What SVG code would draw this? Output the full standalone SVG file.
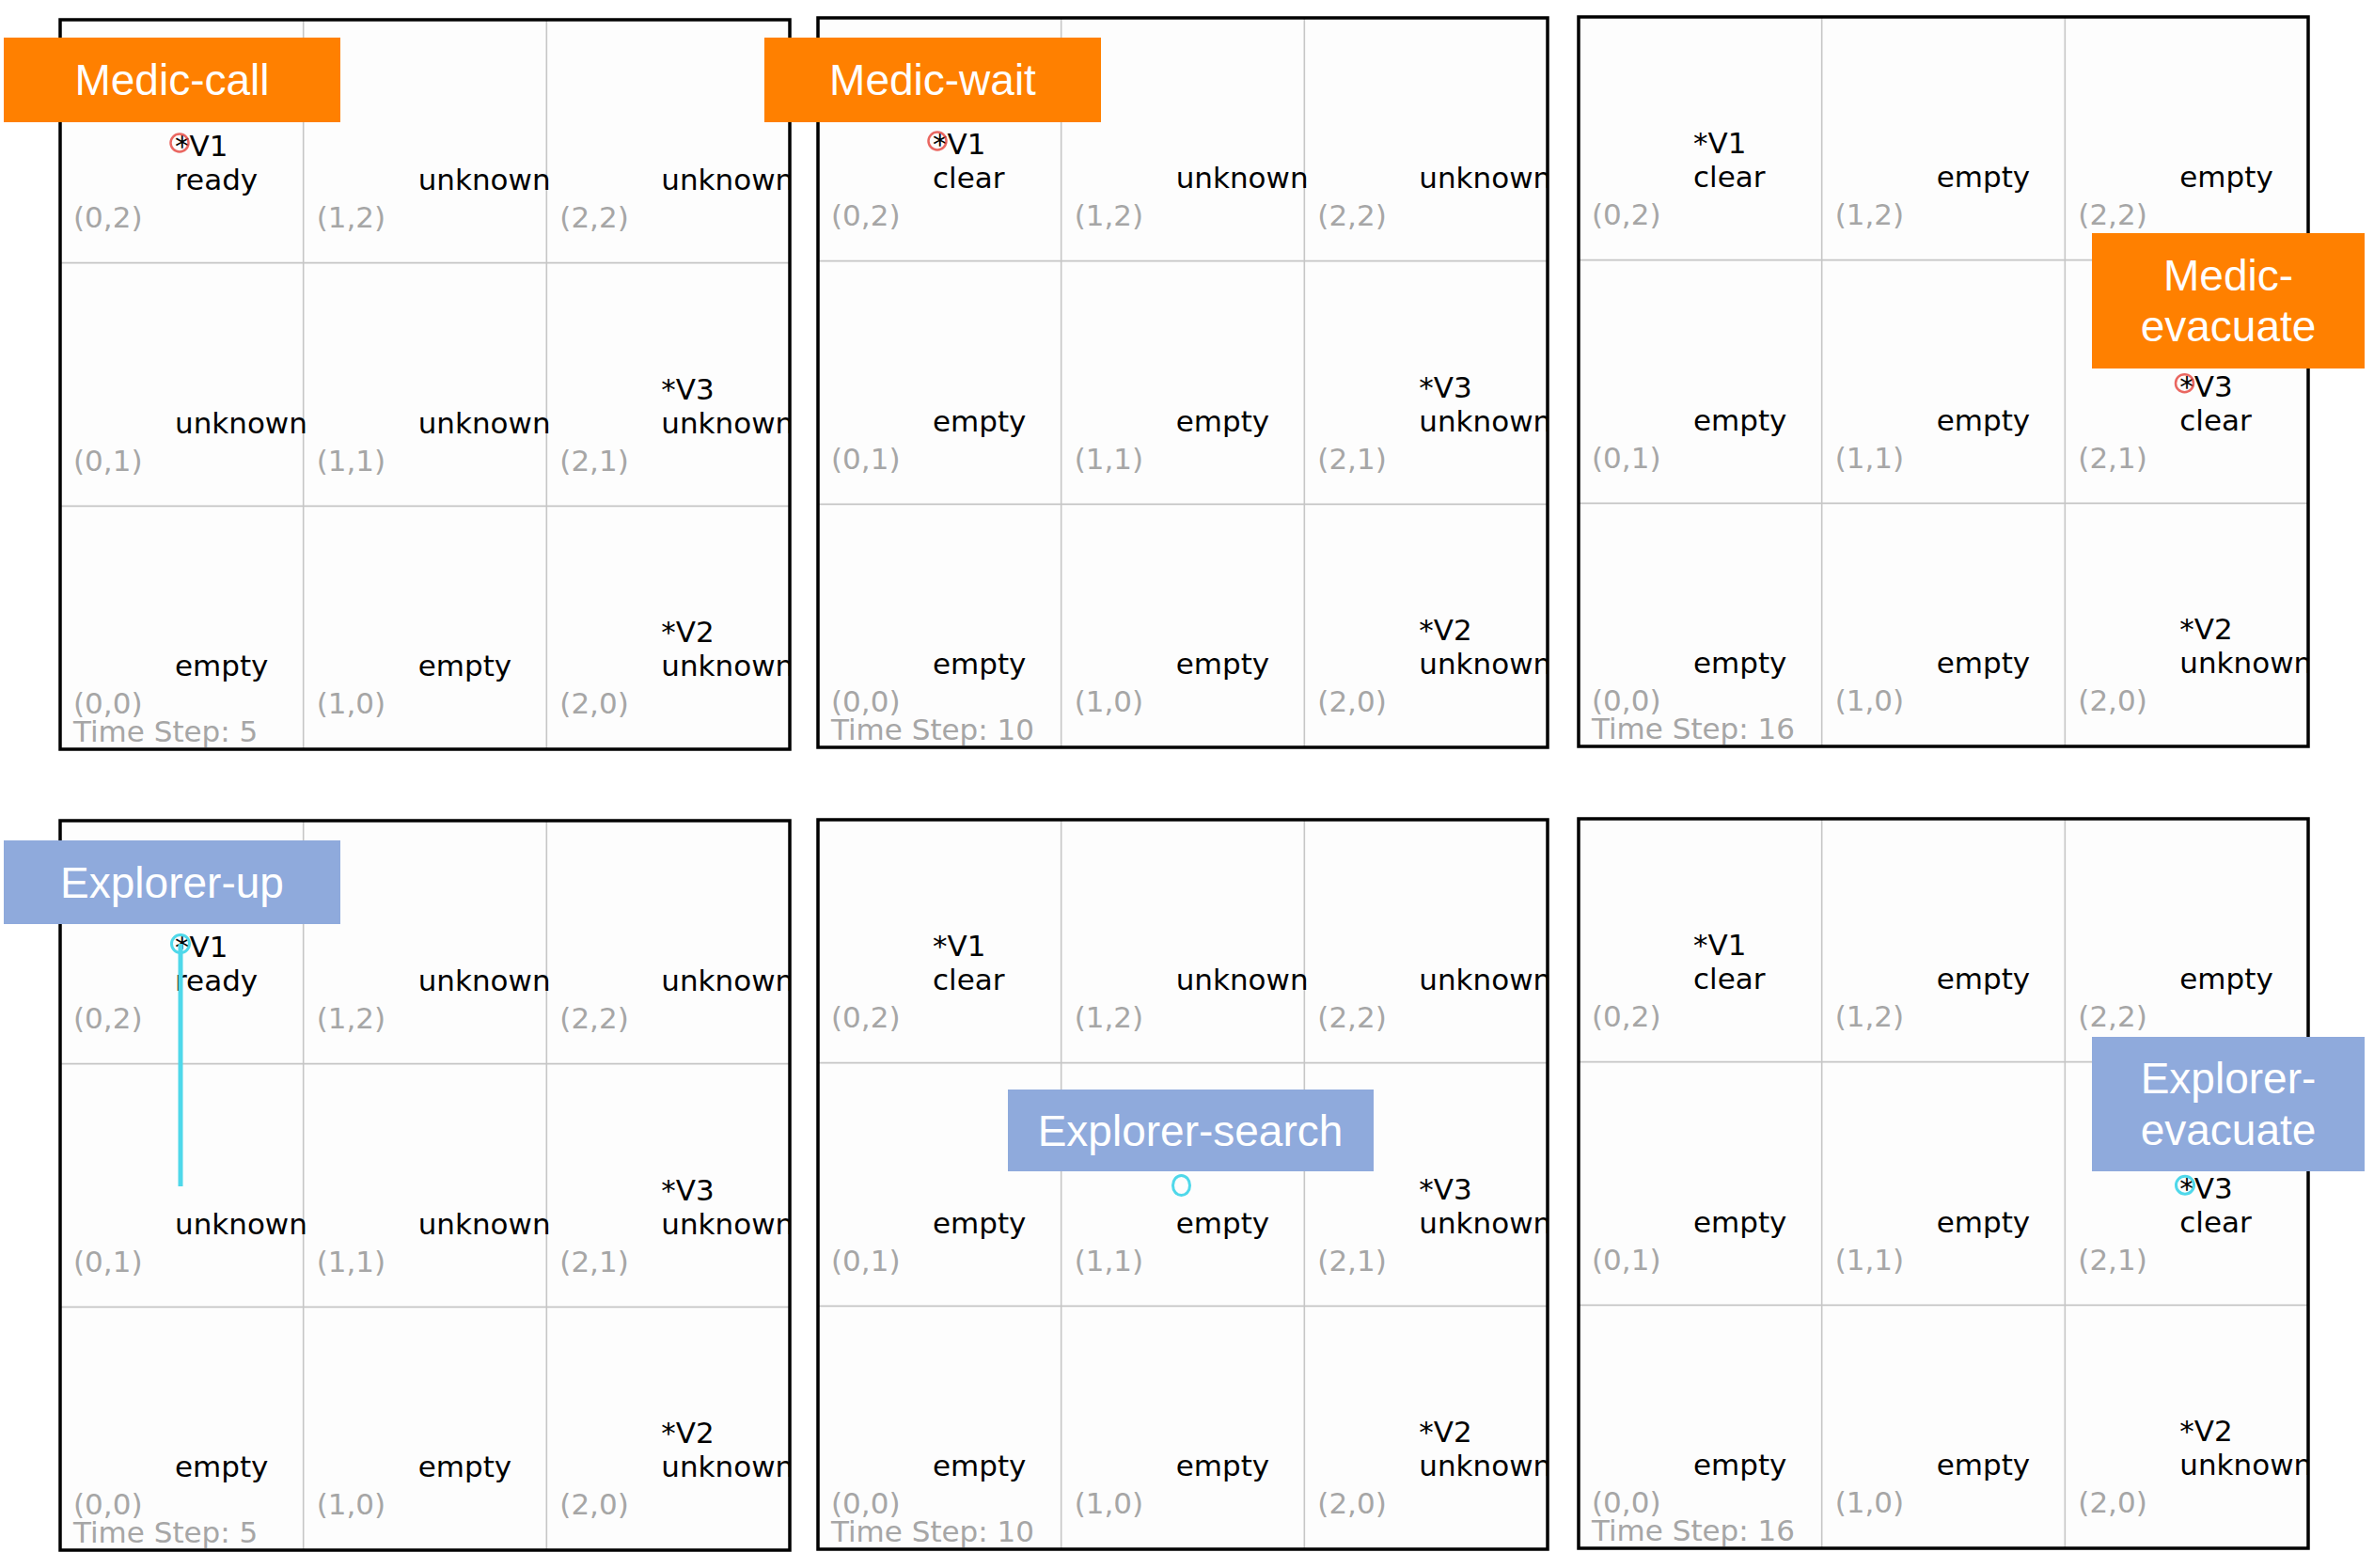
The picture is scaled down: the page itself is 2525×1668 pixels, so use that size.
<svg xmlns="http://www.w3.org/2000/svg" width="2525" height="1668" viewBox="0 0 2525 1668">
<style>
.bg{fill:#fdfdfd}
.border{fill:none;stroke:#000;stroke-width:3.5}
.grid{stroke:#c6c6c6;stroke-width:1.6}
.st{font-family:"DejaVu Sans",sans-serif;font-size:31px;fill:#000}
.co{font-family:"DejaVu Sans",sans-serif;font-size:31px;fill:#a6a6a6}
.lbl{font-family:"Liberation Sans",Arial,sans-serif;font-size:46px;fill:#fff;text-anchor:middle}
.med{fill:#ff8000}
.exp{fill:#8faadc}
.red{fill:none;stroke:#e5413a;stroke-opacity:.8;stroke-width:2.5}
.cyan{fill:none;stroke:#4fd8ea;stroke-width:3}
.trail{stroke:#4fd8ea;stroke-width:5}
</style>
<defs>
<clipPath id="pc" clipPathUnits="userSpaceOnUse"><rect x="0" y="0" width="776" height="776"/></clipPath>
<g id="gridlines">
<rect class="bg" x="0" y="0" width="776" height="776"/>
<line class="grid" x1="258.67" y1="0" x2="258.67" y2="776"/>
<line class="grid" x1="517.33" y1="0" x2="517.33" y2="776"/>
<line class="grid" x1="0" y1="258.67" x2="776" y2="258.67"/>
<line class="grid" x1="0" y1="517.33" x2="776" y2="517.33"/>
</g>
<g id="coords">
<text class="co" x="14" y="221">(0,2)</text>
<text class="co" x="272.7" y="221">(1,2)</text>
<text class="co" x="531.3" y="221">(2,2)</text>
<text class="co" x="14" y="479.7">(0,1)</text>
<text class="co" x="272.7" y="479.7">(1,1)</text>
<text class="co" x="531.3" y="479.7">(2,1)</text>
<text class="co" x="14" y="738.3">(0,0)</text>
<text class="co" x="272.7" y="738.3">(1,0)</text>
<text class="co" x="531.3" y="738.3">(2,0)</text>
</g>
<g id="stateA">
<text class="st" x="122" y="145">*V1</text><text class="st" x="122" y="181">ready</text>
<text class="st" x="380.7" y="181">unknown</text>
<text class="st" x="639.3" y="181">unknown</text>
<text class="st" x="122" y="439.7">unknown</text>
<text class="st" x="380.7" y="439.7">unknown</text>
<text class="st" x="639.3" y="403.7">*V3</text><text class="st" x="639.3" y="439.7">unknown</text>
<text class="st" x="122" y="698.3">empty</text>
<text class="st" x="380.7" y="698.3">empty</text>
<text class="st" x="639.3" y="662.3">*V2</text><text class="st" x="639.3" y="698.3">unknown</text>
<text class="co" x="14" y="768">Time Step: 5</text>
</g>
<g id="stateB">
<text class="st" x="122" y="145">*V1</text><text class="st" x="122" y="181">clear</text>
<text class="st" x="380.7" y="181">unknown</text>
<text class="st" x="639.3" y="181">unknown</text>
<text class="st" x="122" y="439.7">empty</text>
<text class="st" x="380.7" y="439.7">empty</text>
<text class="st" x="639.3" y="403.7">*V3</text><text class="st" x="639.3" y="439.7">unknown</text>
<text class="st" x="122" y="698.3">empty</text>
<text class="st" x="380.7" y="698.3">empty</text>
<text class="st" x="639.3" y="662.3">*V2</text><text class="st" x="639.3" y="698.3">unknown</text>
<text class="co" x="14" y="768">Time Step: 10</text>
</g>
<g id="stateC">
<text class="st" x="122" y="145">*V1</text><text class="st" x="122" y="181">clear</text>
<text class="st" x="380.7" y="181">empty</text>
<text class="st" x="639.3" y="181">empty</text>
<text class="st" x="122" y="439.7">empty</text>
<text class="st" x="380.7" y="439.7">empty</text>
<text class="st" x="639.3" y="403.7">*V3</text><text class="st" x="639.3" y="439.7">clear</text>
<text class="st" x="122" y="698.3">empty</text>
<text class="st" x="380.7" y="698.3">empty</text>
<text class="st" x="639.3" y="662.3">*V2</text><text class="st" x="639.3" y="698.3">unknown</text>
<text class="co" x="14" y="768">Time Step: 16</text>
</g>
</defs>
<rect x="0" y="0" width="2525" height="1668" fill="#fff"/>

<g id="panel-medic-5" transform="translate(64,21)">
<g clip-path="url(#pc)"><use href="#gridlines"/><use href="#coords"/><use href="#stateA"/>
<circle class="red" cx="127" cy="131" r="9.5"/></g>
<rect class="border" x="0" y="0" width="776" height="776"/>
</g>
<g id="panel-medic-10" transform="translate(870,19)">
<g clip-path="url(#pc)"><use href="#gridlines"/><use href="#coords"/><use href="#stateB"/>
<circle class="red" cx="127" cy="131" r="9.5"/></g>
<rect class="border" x="0" y="0" width="776" height="776"/>
</g>
<g id="panel-medic-16" transform="translate(1679,18)">
<g clip-path="url(#pc)"><use href="#gridlines"/><use href="#coords"/><use href="#stateC"/>
<circle class="red" cx="644.5" cy="389.7" r="9.5"/></g>
<rect class="border" x="0" y="0" width="776" height="776"/>
</g>
<g id="panel-explorer-5" transform="translate(64,873)">
<g clip-path="url(#pc)"><use href="#gridlines"/><use href="#coords"/><use href="#stateA"/>
<circle class="cyan" cx="128" cy="131" r="9.5"/></g>
<rect class="border" x="0" y="0" width="776" height="776"/>
</g>
<g id="panel-explorer-10" transform="translate(870,872)">
<g clip-path="url(#pc)"><use href="#gridlines"/><use href="#coords"/><use href="#stateB"/>
<ellipse class="cyan" cx="386.5" cy="389" rx="9" ry="10.5"/></g>
<rect class="border" x="0" y="0" width="776" height="776"/>
</g>
<g id="panel-explorer-16" transform="translate(1679,871)">
<g clip-path="url(#pc)"><use href="#gridlines"/><use href="#coords"/><use href="#stateC"/>
<circle class="cyan" cx="645" cy="389.7" r="9.5"/></g>
<rect class="border" x="0" y="0" width="776" height="776"/>
</g>

<g id="connectors">
<line class="trail" x1="192" y1="1004" x2="192" y2="1262"/>
</g>

<g id="label-medic-call"><rect class="med" x="4" y="40" width="358" height="90"/><text class="lbl" x="183" y="101">Medic-call</text></g>
<g id="label-medic-wait"><rect class="med" x="813" y="40" width="358" height="90"/><text class="lbl" x="992" y="101">Medic-wait</text></g>
<g id="label-medic-evacuate"><rect class="med" x="2225" y="248" width="290" height="144"/><text class="lbl" x="2370" y="309">Medic-</text><text class="lbl" x="2370" y="363">evacuate</text></g>
<g id="label-explorer-up"><rect class="exp" x="4" y="894" width="358" height="89"/><text class="lbl" x="183" y="955">Explorer-up</text></g>
<g id="label-explorer-search"><rect class="exp" x="1072" y="1159" width="389" height="87"/><text class="lbl" x="1266" y="1219">Explorer-search</text></g>
<g id="label-explorer-evacuate"><rect class="exp" x="2225" y="1103" width="290" height="143"/><text class="lbl" x="2370" y="1163">Explorer-</text><text class="lbl" x="2370" y="1218">evacuate</text></g>
</svg>
